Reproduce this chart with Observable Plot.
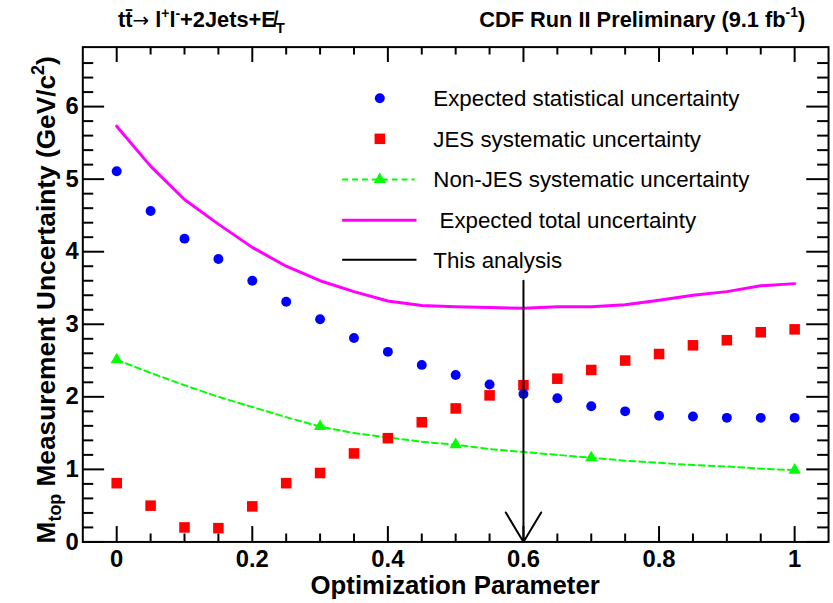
<!DOCTYPE html>
<html><head><meta charset="utf-8">
<script src="https://cdn.jsdelivr.net/npm/d3@7"></script>
<script src="https://cdn.jsdelivr.net/npm/@observablehq/plot@0.6"></script>
<style>
html,body{margin:0;padding:0;background:#fff;overflow:hidden;}
#chart{position:relative;width:833px;height:603px;overflow:hidden;}
</style></head><body><div id="chart"></div>
<script>
// ---- data ----
const xParam   = [0, 0.05, 0.1, 0.15, 0.2, 0.25, 0.3, 0.35, 0.4, 0.45, 0.5, 0.55, 0.6, 0.65, 0.7, 0.75, 0.8, 0.85, 0.9, 0.95, 1];
const statUnc  = [5.11, 4.56, 4.18, 3.90, 3.60, 3.31, 3.07, 2.81, 2.62, 2.44, 2.30, 2.17, 2.04, 1.98, 1.87, 1.80, 1.74, 1.73, 1.71, 1.71, 1.71];
const jesUnc   = [0.81, 0.50, 0.20, 0.19, 0.49, 0.81, 0.95, 1.22, 1.43, 1.65, 1.84, 2.02, 2.16, 2.25, 2.37, 2.50, 2.59, 2.71, 2.78, 2.89, 2.93];
const nonJesUnc = [2.51, 2.33, 2.16, 2.00, 1.86, 1.72, 1.59, 1.50, 1.44, 1.38, 1.34, 1.28, 1.24, 1.20, 1.16, 1.12, 1.09, 1.06, 1.04, 1.01, 0.99];
const nonJesMarkerX = [0, 0.3, 0.5, 0.7, 1];
const totalUnc = [5.73, 5.18, 4.72, 4.38, 4.06, 3.80, 3.60, 3.45, 3.32, 3.26, 3.24, 3.23, 3.22, 3.24, 3.24, 3.27, 3.33, 3.40, 3.45, 3.53, 3.56];
const thisAnalysisX = 0.6;
const thisAnalysisTop = 3.6;

const xMajorTicks = [0, 0.2, 0.4, 0.6, 0.8, 1];
const xMinorTicks = [0.05, 0.1, 0.15, 0.25, 0.3, 0.35, 0.45, 0.5, 0.55, 0.65, 0.7, 0.75, 0.85, 0.9, 0.95];
const yMajorTicks = [0, 1, 2, 3, 4, 5, 6];
const yMinorTicks = [0.2, 0.4, 0.6, 0.8, 1.2, 1.4, 1.6, 1.8, 2.2, 2.4, 2.6, 2.8, 3.2, 3.4, 3.6, 3.8, 4.2, 4.4, 4.6, 4.8, 5.2, 5.4, 5.6, 5.8, 6.2, 6.4, 6.6];

const legendLabels = ["Expected statistical uncertainty", "JES systematic uncertainty", "Non-JES systematic uncertainty", " Expected total uncertainty", "This analysis"];
const xTitle = "Optimization Parameter";
const rightTitle = "CDF Run II Preliminary (9.1 fb";

// ---- layout ----
const W = 840, H = 603;
const mTop = 47, mRight = 5, mBottom = 57, mLeft = 83;
const plotW = W - mLeft - mRight;
const plotH = H - mTop - mBottom;
const FONT = "'Liberation Sans', Arial, Helvetica, sans-serif";

const rows = xParam.map((x, i) => ({x, stat: statUnc[i], jes: jesUnc[i], nonJes: nonJesUnc[i], total: totalUnc[i]}));
const triRows = rows.filter(d => nonJesMarkerX.includes(d.x));
const arrowData = [{x: thisAnalysisX, top: thisAnalysisTop}];

const chart = Plot.plot({
  width: W, height: H,
  marginTop: mTop, marginRight: mRight, marginBottom: mBottom, marginLeft: mLeft,
  x: {domain: [-0.05, 1.05]},
  y: {domain: [0, 6.82]},
  style: {fontFamily: FONT, color: "black", background: "white", overflow: "visible"},
  marks: [
    Plot.ruleX(xMajorTicks, {x: d => d, insetTop: plotH - 15.5, stroke: "black", strokeWidth: 2}),
    Plot.ruleX(xMinorTicks, {x: d => d, insetTop: plotH - 8, stroke: "black", strokeWidth: 2}),
    Plot.ruleX(xMajorTicks, {x: d => d, insetBottom: plotH - 15.5, stroke: "black", strokeWidth: 2}),
    Plot.ruleX(xMinorTicks, {x: d => d, insetBottom: plotH - 8, stroke: "black", strokeWidth: 2}),
    Plot.ruleY(yMajorTicks, {y: d => d, insetRight: plotW - 22, stroke: "black", strokeWidth: 2}),
    Plot.ruleY(yMinorTicks, {y: d => d, insetRight: plotW - 11, stroke: "black", strokeWidth: 2}),
    Plot.ruleY(yMajorTicks, {y: d => d, insetLeft: plotW - 22, stroke: "black", strokeWidth: 2}),
    Plot.ruleY(yMinorTicks, {y: d => d, insetLeft: plotW - 11, stroke: "black", strokeWidth: 2}),
    Plot.axisX({ticks: xMajorTicks, tickSize: 0, tickPadding: 8, fontSize: 24, fontWeight: "bold", tickFormat: d => String(d), label: null}),
    Plot.axisY({ticks: yMajorTicks, tickSize: 0, tickPadding: 4, fontSize: 24, fontWeight: "bold", tickFormat: d => String(d), label: null}),
    Plot.line(rows, {x: "x", y: "nonJes", stroke: "#00ff00", strokeWidth: 2, strokeDasharray: "6,4"}),
    Plot.dot(triRows, {x: "x", y: "nonJes", symbol: "triangle", r: 4.6, fill: "#00ff00", stroke: "none"}),
    Plot.line(rows, {x: "x", y: "total", stroke: "#ff00ff", strokeWidth: 3}),
    Plot.dot(rows, {x: "x", y: "jes", symbol: "square", r: 6, fill: "#ff0000", stroke: "none"}),
    Plot.dot(rows, {x: "x", y: "stat", r: 5, fill: "#0000ff", stroke: "none"}),
    Plot.arrow(arrowData, {x1: "x", y1: "top", x2: "x", y2: () => 0, stroke: "black", strokeWidth: 2, headLength: 26, headAngle: 62}),
    Plot.frame({stroke: "black", strokeWidth: 2})
  ]
});
document.getElementById("chart").appendChild(chart);

const svg = d3.select(chart);

// ---- top titles ----
const tl = svg.append("text").attr("x", 119).attr("y", 27).attr("text-anchor", "start")
  .attr("font-family", FONT).attr("font-size", 22).attr("font-weight", "bold").attr("fill", "black");
tl.append("tspan").text("t");
tl.append("tspan").text("t\u0304");
tl.append("tspan").attr("font-weight", "normal").attr("font-family", "'DejaVu Sans', sans-serif").attr("font-size", 20).text("\u2192");
tl.append("tspan").text(" l");
tl.append("tspan").attr("font-size", 14).attr("dy", -9).text("+");
tl.append("tspan").attr("dy", 9).text("l");
tl.append("tspan").attr("font-size", 14).attr("dy", -9).text("-");
tl.append("tspan").attr("dy", 9).text("+2Jets+E\u0338");
tl.append("tspan").attr("font-size", 15).attr("dy", 6).text("T");

const tr = svg.append("text").attr("x", 812).attr("y", 27).attr("text-anchor", "end")
  .attr("font-family", FONT).attr("font-size", 22).attr("font-weight", "bold").attr("fill", "black");
tr.append("tspan").text(rightTitle);
tr.append("tspan").attr("font-size", 14).attr("dy", -10).text("-1");
tr.append("tspan").attr("dy", 10).text(")");

// ---- axis titles ----
svg.append("text").attr("x", 459).attr("y", 599).attr("text-anchor", "middle")
  .attr("font-family", FONT).attr("font-size", 26).attr("font-weight", "bold").attr("fill", "black")
  .text(xTitle);

const yt = svg.append("text").attr("transform", "translate(55,548) rotate(-90)").attr("text-anchor", "start")
  .attr("font-family", FONT).attr("font-size", 26.5).attr("font-weight", "bold").attr("fill", "black");
yt.append("tspan").text("M");
yt.append("tspan").attr("font-size", 18).attr("dy", 7).text("top");
yt.append("tspan").attr("dy", -7).text(" Measurement Uncertainty (GeV/c");
yt.append("tspan").attr("font-size", 18).attr("dy", -11).text("2");
yt.append("tspan").attr("dy", 11).text(")");

// ---- legend ----
const legY = [99, 140, 181, 222, 262];
const lg = svg.append("g").attr("font-family", FONT).attr("font-size", 22.5).attr("fill", "black").attr("text-anchor", "start");
lg.append("circle").attr("cx", 383).attr("cy", legY[0]).attr("r", 5).attr("fill", "#0000ff");
lg.append("rect").attr("x", 383 - 5.3).attr("y", legY[1] - 5.3).attr("width", 10.6).attr("height", 10.6).attr("fill", "#ff0000");
lg.append("line").attr("x1", 345).attr("x2", 418).attr("y1", legY[2]).attr("y2", legY[2])
  .attr("stroke", "#00ff00").attr("stroke-width", 2).attr("stroke-dasharray", "6,4");
lg.append("path").attr("d", d3.symbol(d3.symbolTriangle, Math.PI * 4.6 * 4.6)()).attr("transform", `translate(383,${legY[2]})`).attr("fill", "#00ff00");
lg.append("line").attr("x1", 345).attr("x2", 420).attr("y1", legY[3]).attr("y2", legY[3]).attr("stroke", "#ff00ff").attr("stroke-width", 3);
lg.append("line").attr("x1", 345).attr("x2", 420).attr("y1", legY[4]).attr("y2", legY[4]).attr("stroke", "black").attr("stroke-width", 2);
legendLabels.forEach((t, i) => {
  lg.append("text").attr("x", 437).attr("y", legY[i]).attr("dy", "0.35em").attr("text-anchor", "start")
    .style("white-space", "pre").attr("xml:space", "preserve").text(t);
});
</script></body></html>
